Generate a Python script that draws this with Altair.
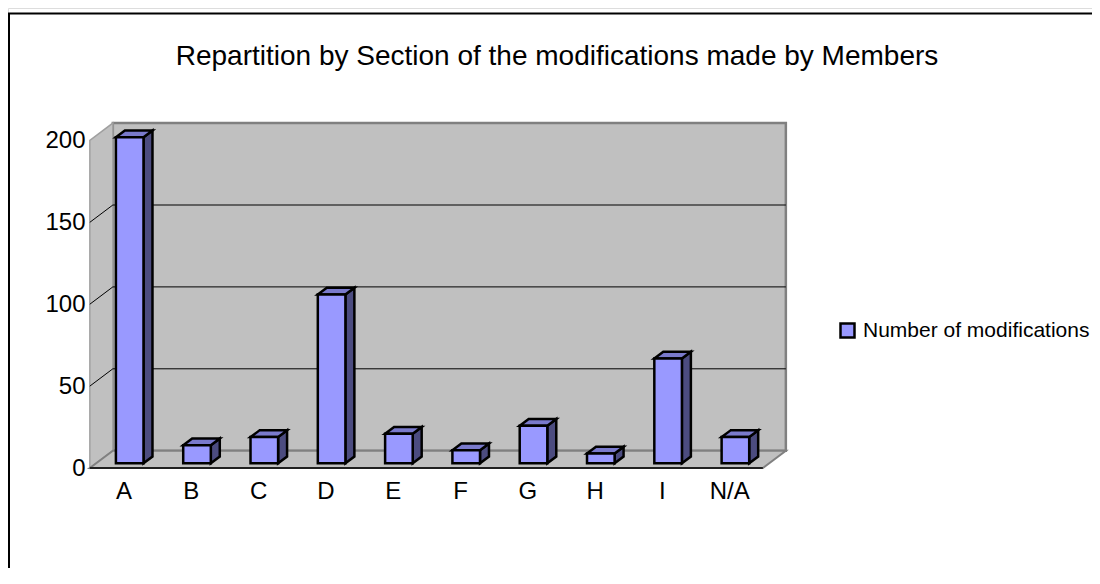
import altair as alt
import pandas as pd

# ---------------- data ----------------
categories = ["A", "B", "C", "D", "E", "F", "G", "H", "I", "N/A"]
values = [199, 11, 16, 103, 18, 8, 23, 6, 64, 16]
series_name = "Number of modifications"
y_ticks = [0, 50, 100, 150, 200]
grid_values = [50, 100, 150]
title_text = "Repartition by Section of the modifications made by Members"

# ---------------- layout (pixels) ----------------
W, H = 1084, 560
ORIGIN = 8
PX_PER_CAT = 67.3
PX_PER_UNIT = 1.638
X0_PAGE = 123.5
Y0_PAGE = 468
DX = 23 / PX_PER_CAT          # depth offset in category units
DY = 17.3 / PX_PER_UNIT       # depth offset in value units
BAR_W = 0.41
DF, DB = 0.27, 0.66           # bar front/back depth fraction
YMAX = max(y_ticks)
FONT = "Liberation Sans"

xd0 = -(X0_PAGE - ORIGIN) / PX_PER_CAT
xd1 = xd0 + W / PX_PER_CAT
yd1 = (Y0_PAGE - ORIGIN) / PX_PER_UNIT
yd0 = yd1 - H / PX_PER_UNIT

xs = alt.Scale(domain=[xd0, xd1], zero=False, nice=False)
ys = alt.Scale(domain=[yd0, yd1], zero=False, nice=False)

lo, hi = -0.5, len(categories) - 0.5

label_expr = "[" + ",".join("'" + c + "'" for c in categories) + "][datum.value]"
x_axis = alt.Axis(
    values=list(range(len(categories))), labelExpr=label_expr, orient="bottom",
    offset=-(H - (Y0_PAGE - ORIGIN)), domain=False, ticks=False, tickSize=0, grid=False,
    labelPadding=11, labelFontSize=24, labelFont=FONT, labelColor="black", title=None)
y_axis = alt.Axis(
    values=y_ticks, orient="left", offset=-(90 - ORIGIN - 2), domain=False, ticks=False,
    tickSize=0, grid=False, labelPadding=3, labelFontSize=24, labelFont=FONT,
    labelColor="black", title=None)

# ---------------- frames ----------------
front = pd.DataFrame({
    "i": list(range(len(categories))),
    "cat": categories,
    "v": values,
    "series": series_name,
})
front["x"] = front["i"] - BAR_W / 2 + DF * DX
front["x2"] = front["i"] + BAR_W / 2 + DF * DX
front["y"] = DF * DY
front["y2"] = front["v"] + DF * DY

side_rows, top_rows = [], []
for i, v in enumerate(values):
    for d in (DF, DB):
        side_rows.append({"i": i, "x": i + BAR_W / 2 + d * DX, "y": d * DY, "y2": v + d * DY})
        top_rows.append({"i": i, "y": v + d * DY, "x": i - BAR_W / 2 + d * DX, "x2": i + BAR_W / 2 + d * DX})
side = pd.DataFrame(side_rows)
top = pd.DataFrame(top_rows)

back_wall = pd.DataFrame({"x": [lo + DX], "x2": [hi + DX], "y": [DY], "y2": [YMAX + DY]})
left_wall = pd.DataFrame({"x": [lo, lo + DX], "y": [0, DY], "y2": [YMAX, YMAX + DY]})
floor = pd.DataFrame({"y": [0, DY], "x": [lo, lo + DX], "x2": [hi, hi + DX]})
grid_back = pd.DataFrame({"x": [lo + DX] * len(grid_values), "x2": [hi + DX] * len(grid_values),
                          "y": [g + DY for g in grid_values]})
grid_left = pd.DataFrame({"x": [lo] * len(grid_values), "x2": [lo + DX] * len(grid_values),
                          "y": grid_values, "y2": [g + DY for g in grid_values]})
floor_front = pd.DataFrame({"x": [lo], "x2": [hi], "y": [0]})
one = pd.DataFrame({"a": [0]})


def X(f="x"):
    return alt.X(f"{f}:Q", scale=xs, axis=x_axis)


def Y(f="y"):
    return alt.Y(f"{f}:Q", scale=ys, axis=y_axis)


border = alt.Chart(one).mark_rect(fill=None, stroke="black", strokeWidth=2).encode(
    x=alt.value(1), x2=alt.value(W + 30), y=alt.value(5.5), y2=alt.value(H + 30))

bw = alt.Chart(back_wall).mark_rect(fill="#C0C0C0", stroke="#808080", strokeWidth=2.5).encode(
    x=X(), x2="x2:Q", y=Y(), y2="y2:Q")
lw = alt.Chart(left_wall).mark_area(fill="#C0C0C0", stroke="#A0A0A0", strokeWidth=1.5).encode(
    x=X(), y=Y(), y2="y2:Q")
fl = alt.Chart(floor).mark_area(orient="horizontal", fill="#C0C0C0", stroke="#808080", strokeWidth=2).encode(
    y=Y(), x=X(), x2="x2:Q")
gb = alt.Chart(grid_back).mark_rule(color="black", strokeWidth=1).encode(x=X(), x2="x2:Q", y=Y())
gl = alt.Chart(grid_left).mark_rule(color="black", strokeWidth=1).encode(x=X(), x2="x2:Q", y=Y(), y2="y2:Q")
ff = alt.Chart(floor_front).mark_rule(color="black", strokeWidth=1.5).encode(x=X(), x2="x2:Q", y=Y())

sides = alt.Chart(side).mark_area(fill="#4C4C80", stroke="black", strokeWidth=2.5, strokeJoin="miter").encode(
    x=X(), y=Y(), y2="y2:Q", detail="i:N")
tops = alt.Chart(top).mark_area(orient="horizontal", fill="#7A7ACC", stroke="black", strokeWidth=2.5,
                                strokeJoin="miter").encode(
    y=Y(), x=X(), x2="x2:Q", detail="i:N")
fronts = alt.Chart(front).mark_rect(stroke="black", strokeWidth=2.5).encode(
    x=X(), x2="x2:Q", y=Y(), y2="y2:Q",
    color=alt.Color("series:N", scale=alt.Scale(domain=[series_name], range=["#9999FF"]),
                    legend=alt.Legend(orient="none", legendX=829, legendY=312, title=None,
                                      symbolType="square", symbolSize=196, symbolStrokeColor="black",
                                      symbolStrokeWidth=2.5, labelFontSize=21, labelFont=FONT,
                                      labelColor="black", labelOffset=5, labelLimit=0, padding=0)),
)

title = alt.Chart(one).mark_text(text=title_text, font=FONT, fontSize=28, color="black",
                                 align="center", baseline="middle").encode(
    x=alt.value(549), y=alt.value(49))

chart = alt.layer(border, bw, lw, fl, gb, gl, ff, sides, tops, fronts, title).properties(
    width=W, height=H, padding=0, autosize=alt.AutoSizeParams(type="none")
).configure_view(stroke=None).configure(background="white")

chart.save("out.html", embed_options={"renderer": "svg", "actions": False})
